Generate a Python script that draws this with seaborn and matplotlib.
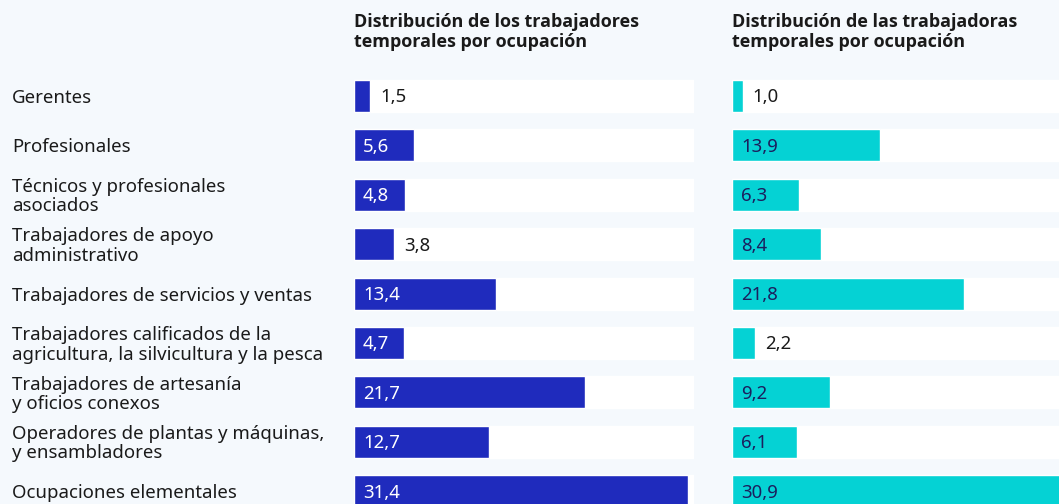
import matplotlib
matplotlib.use("Agg")
import matplotlib.pyplot as plt
import matplotlib.transforms as mtransforms
import seaborn as sns
import pandas as pd

# data
ocupaciones = [
    "Gerentes",
    "Profesionales",
    "Técnicos y profesionales\nasociados",
    "Trabajadores de apoyo\nadministrativo",
    "Trabajadores de servicios y ventas",
    "Trabajadores calificados de la\nagricultura, la silvicultura y la pesca",
    "Trabajadores de artesanía\ny oficios conexos",
    "Operadores de plantas y máquinas,\ny ensambladores",
    "Ocupaciones elementales",
]
hombres = [1.5, 5.6, 4.8, 3.8, 13.4, 4.7, 21.7, 12.7, 31.4]
mujeres = [1.0, 13.9, 6.3, 8.4, 21.8, 2.2, 9.2, 6.1, 30.9]
titulos = [
    "Distribución de los trabajadores\ntemporales por ocupación",
    "Distribución de las trabajadoras\ntemporales por ocupación",
]

df = pd.DataFrame({"ocupacion": ocupaciones, "hombres": hombres, "mujeres": mujeres})

sns.set_theme(style="white")
plt.rcParams["font.family"] = ["Noto Sans", "Open Sans", "DejaVu Sans"]

W, H = 1059, 504
bg = "#f5f9fd"
fig = plt.figure(figsize=(W / 100, H / 100), dpi=100, facecolor=bg)

track_max = 32.0
row0, step = 96, 49.4
ytop = -row0 / step
ybot = (H - row0) / step
fs = 13.4

paneles = [
    ("hombres", "#1f2bbd", "white", 354),
    ("mujeres", "#05d2d4", "#1b1f5e", 732),
]

for (col, color, txtcolor, x0), titulo in zip(paneles, titulos):
    ax = fig.add_axes([x0 / W, 0, 340 / W, 1])
    ax.set_facecolor("none")
    ax.barh(range(len(df)), [track_max] * len(df), height=0.648, color="white", zorder=0)
    sns.barplot(data=df, x=col, y="ocupacion", color=color, saturation=1,
                width=0.648, ax=ax, zorder=2)
    ax.set_xlim(0, track_max)
    ax.set_ylim(ybot, ytop)
    ax.axis("off")
    for i, v in enumerate(df[col]):
        label = f"{v:.1f}".replace(".", ",")
        if v >= 4.5:
            ax.text(0.85, i + 0.03, label, color=txtcolor, va="center", ha="left", fontsize=fs, zorder=3)
        else:
            ax.text(v + 0.95, i + 0.03, label, color="#1a1a1a", va="center", ha="left", fontsize=fs, zorder=3)
    fig.text(x0 / W, 1 - 13 / H, titulo, ha="left", va="top", fontsize=13,
             family=["Open Sans"], fontweight="bold", fontstretch="normal",
             color="#1a1a1a", linespacing=1.15)

trans = mtransforms.blended_transform_factory(fig.transFigure, ax.transData)
for i, lab in enumerate(ocupaciones):
    ax.text(12 / W, i + 0.04, lab, transform=trans, ha="left", va="center", fontsize=fs,
            color="#1a1a1a", linespacing=1.1, clip_on=False)

fig.savefig("out.png", dpi=100, facecolor=bg)
